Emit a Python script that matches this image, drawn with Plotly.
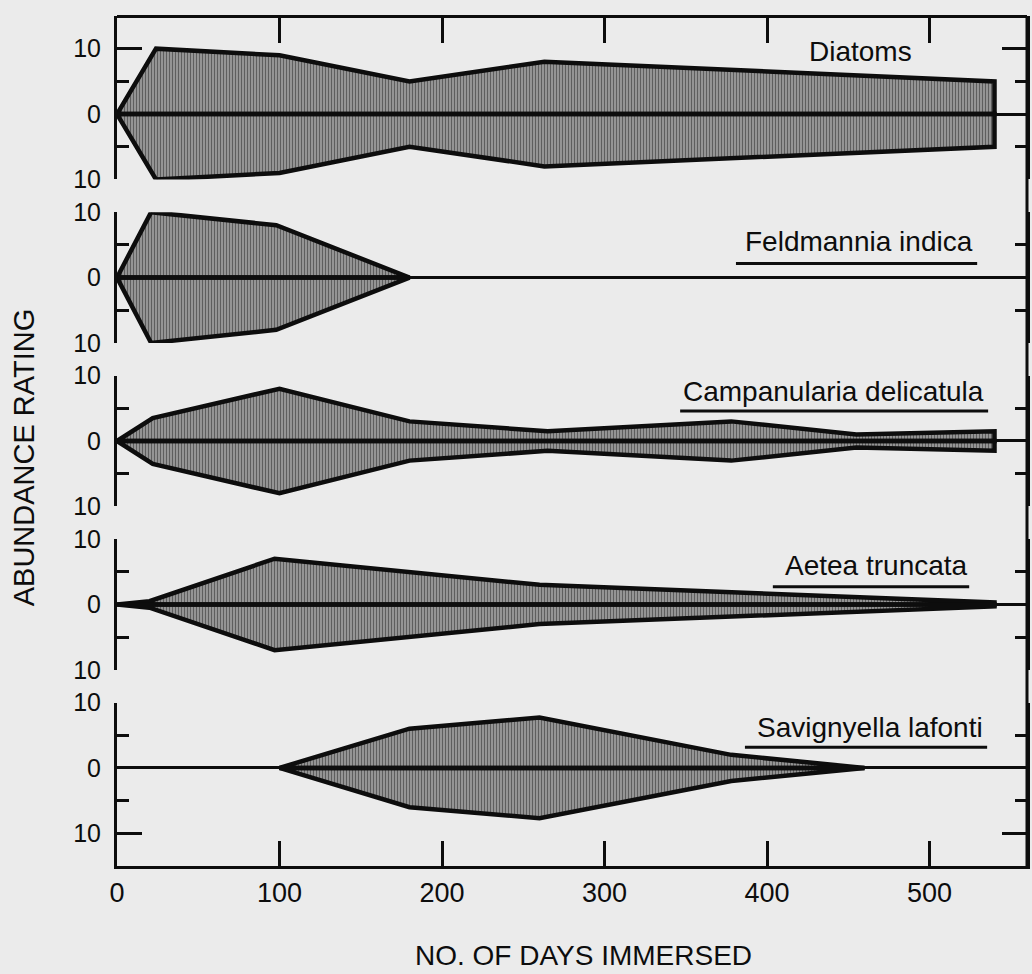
import plotly.graph_objects as go

# ---------------- data ----------------
species = ["Diatoms", "Feldmannia indica", "Campanularia delicatula",
           "Aetea truncata", "Savignyella lafonti"]

diatoms_days = [0, 24, 100, 180, 263, 540]
diatoms_vals = [0, 10, 9, 5, 8, 5]

feldmannia_days = [0, 21, 98, 180]
feldmannia_vals = [0, 10, 8, 0]

campanularia_days = [0, 22, 100, 180, 265, 378, 455, 540]
campanularia_vals = [0, 3.5, 8, 3, 1.5, 3, 1, 1.5]

aetea_days = [0, 20, 97, 260, 540]
aetea_vals = [0, 0.5, 7, 3, 0.3]

savignyella_days = [100, 180, 260, 378, 460]
savignyella_vals = [0, 6, 7.7, 2, 0]

x_tickvals = [0, 100, 200, 300, 400, 500]
x_ticktext = ["0", "100", "200", "300", "400", "500"]
y_tickvals = [-10, 0, 10]
y_ticktext = ["10", "0", "10"]
y_minorvals = [-5, 5]

x_title = "NO. OF DAYS IMMERSED"
y_title = "ABUNDANCE RATING"

series = [(diatoms_days, diatoms_vals), (feldmannia_days, feldmannia_vals),
          (campanularia_days, campanularia_vals), (aetea_days, aetea_vals),
          (savignyella_days, savignyella_vals)]

# ---------------- layout geometry ----------------
W, H = 1032, 974
ML, MR, MT, MB = 117, 2, 14, 108
PW, PH = W - ML - MR, H - MT - MB
INK = "#0d0d0d"
PAPER = "#ebebeb"
FONT = "Liberation Sans, Arial, sans-serif"


def px(x):
    return (x - ML) / PW


def py(y):
    return (H - MB - y) / PH


x_range = [0, 560]
y_ranges = [[-10, 15], [-10, 10], [-10, 10], [-10, 10], [-15, 10]]
gap = 5
total = sum(r[1] - r[0] for r in y_ranges) + gap * (len(y_ranges) - 1)

fig = go.Figure()

layout_axes = {}
top = 1.0
for i, r in enumerate(y_ranges):
    h = (r[1] - r[0]) / total
    dom = [max(0.0, top - h), min(1.0, top)]
    top = top - h - gap / total
    name = "yaxis" if i == 0 else f"yaxis{i + 1}"
    layout_axes[name] = dict(
        domain=dom, range=r, anchor="x", fixedrange=True,
        showline=True, linecolor=INK, linewidth=3, mirror="ticks",
        tickmode="array", tickvals=y_tickvals, ticktext=y_ticktext,
        ticks="inside", ticklen=25, tickwidth=3, tickcolor=INK,
        minor=dict(tickmode="array", tickvals=y_minorvals, ticks="inside",
                   ticklen=12, tickwidth=3, tickcolor=INK, showgrid=False),
        showgrid=False, zeroline=True, zerolinecolor=INK, zerolinewidth=3,
        tickfont=dict(family=FONT, size=25, color=INK),
        ticklabelstandoff=8,
    )

for i, (days, vals) in enumerate(series):
    xs = list(days) + list(days[::-1]) + [None] + list(days) + list(days[::-1])
    ys = (list(vals) + [0] * len(days) + [None]
          + [-v for v in vals] + [0] * len(days))
    fig.add_trace(go.Scatter(
        x=xs, y=ys, mode="lines", name=species[i],
        xaxis="x", yaxis="y" if i == 0 else f"y{i + 1}",
        fill="toself", fillcolor="#707070",
        fillpattern=dict(shape="|", size=3, solidity=0.5,
                         fgcolor="#151515", bgcolor="#a6a6a6"),
        line=dict(color=INK, width=4.5),
        hoverinfo="skip", showlegend=False,
    ))

# dummy trace so the top frame axis is drawn
fig.add_trace(go.Scatter(x=[None], y=[None], xaxis="x2", yaxis="y",
                         showlegend=False, hoverinfo="skip"))

annotations = []
# species labels: (right edge px, cap-centre px)
label_pos = [(917, 50), (978, 240), (989, 390), (973, 565), (988, 727)]
for name, (xr, yc) in zip(species, label_pos):
    annotations.append(dict(
        text=name, x=px(xr), y=py(yc), xref="paper", yref="paper",
        xanchor="right", yanchor="middle", showarrow=False,
        font=dict(family=FONT, size=28, color=INK)))

annotations.append(dict(text=y_title, x=px(24), y=py(456), xref="paper",
                        yref="paper", textangle=-90, showarrow=False,
                        xanchor="center", yanchor="middle",
                        font=dict(family=FONT, size=29, color=INK)))
annotations.append(dict(text=x_title, x=px(585), y=py(956), xref="paper",
                        yref="paper", showarrow=False,
                        xanchor="center", yanchor="middle",
                        font=dict(family=FONT, size=28, color=INK)))

shapes = [dict(type="line", xref="paper", yref="paper", x0=1, x1=1, y0=0,
               y1=1, line=dict(color=INK, width=3))]
# underlines below the species names (all except Diatoms)
underlines = [(738, 980, 262), (682, 991, 410), (775, 972, 586), (747, 990, 747)]
for x0, x1, yy in underlines:
    shapes.append(dict(type="line", xref="paper", yref="paper",
                       x0=px(x0), x1=px(x1), y0=py(yy), y1=py(yy),
                       line=dict(color=INK, width=3)))

fig.update_layout(
    width=W, height=H,
    margin=dict(l=ML, r=MR, t=MT, b=MB, pad=0),
    paper_bgcolor=PAPER, plot_bgcolor=PAPER,
    showlegend=False, hovermode=False,
    xaxis=dict(range=x_range, anchor="y5", fixedrange=True,
               showline=True, linecolor=INK, linewidth=3,
               tickmode="array", tickvals=x_tickvals, ticktext=x_ticktext,
               ticks="inside", ticklen=25, tickwidth=3, tickcolor=INK,
               tickfont=dict(family=FONT, size=27, color=INK),
               ticklabelstandoff=1, showgrid=False, zeroline=False),
    xaxis2=dict(range=x_range, overlaying="x", side="top", anchor="free",
                position=1, fixedrange=True,
                showline=True, linecolor=INK, linewidth=3,
                tickmode="array", tickvals=x_tickvals[1:],
                ticks="inside", ticklen=25, tickwidth=3, tickcolor=INK,
                showticklabels=False, showgrid=False, zeroline=False),
    annotations=annotations,
    shapes=shapes,
    **layout_axes,
)

fig.write_html(
    "out.html",
    config={"displayModeBar": False},
    post_script="document.body.style.margin='0px';"
                "document.body.style.overflow='hidden';",
)
